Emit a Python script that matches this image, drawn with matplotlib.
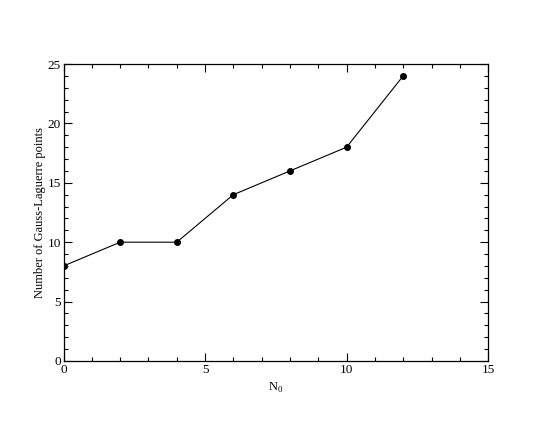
import matplotlib
matplotlib.use("Agg")
import matplotlib.pyplot as plt
from matplotlib.ticker import MultipleLocator

# data
n0 = [0, 2, 4, 6, 8, 10, 12]
n_points = [8, 10, 10, 14, 16, 18, 24]

plt.rcParams['font.family'] = ['Liberation Serif', 'DejaVu Serif']
plt.rcParams['mathtext.fontset'] = 'custom'
plt.rcParams['mathtext.rm'] = 'Liberation Serif'

fig = plt.figure(figsize=(5.5, 4.25), dpi=100)
ax = fig.add_axes([0.1155, 0.1506, 0.772, 0.6988])

ax.plot(n0, n_points, color='black', linewidth=0.8, marker='o', markersize=4)

ax.set_xlim(0, 15)
ax.set_ylim(0, 25)
ax.xaxis.set_major_locator(MultipleLocator(5))
ax.xaxis.set_minor_locator(MultipleLocator(1))
ax.yaxis.set_major_locator(MultipleLocator(5))
ax.yaxis.set_minor_locator(MultipleLocator(1))

ax.tick_params(which='both', direction='in', top=True, right=True, labelsize=9.5, width=0.8)
ax.tick_params(which='major', length=6, pad=2)
ax.tick_params(which='minor', length=3)
for s in ax.spines.values():
    s.set_linewidth(0.9)

ax.set_xlabel(r'N$_\mathrm{0}$', fontsize=9, labelpad=4)
ax.set_ylabel('Number of Gauss-Laguerre points', fontsize=9, labelpad=1)

fig.savefig('out.png', dpi=100)
